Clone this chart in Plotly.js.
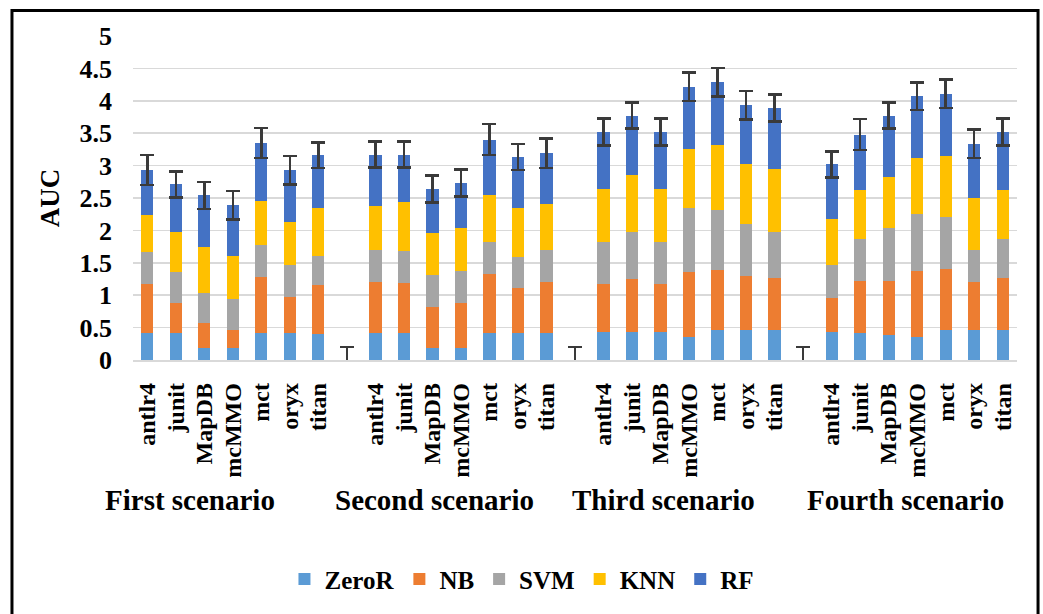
<!DOCTYPE html>
<html>
<head>
<meta charset="utf-8">
<script src="https://cdn.plot.ly/plotly-3.0.1.min.js"></script>
<style>html,body{margin:0;padding:0;background:#fff;}#chart{width:1043px;height:614px;}</style>
</head>
<body>
<div id="chart"></div>
<script>
// ---- data ----
var scenarios = ['First scenario', 'Second scenario', 'Third scenario', 'Fourth scenario'];
var projects = ['antlr4', 'junit', 'MapDB', 'mcMMO', 'mct', 'oryx', 'titan'];
var seriesNames = ['ZeroR', 'NB', 'SVM', 'KNN', 'RF'];

// values per scenario, in project order
var zeroR = [
  0.42, 0.42, 0.18, 0.18, 0.41, 0.41, 0.40,
  0.42, 0.42, 0.18, 0.18, 0.41, 0.41, 0.41,
  0.43, 0.43, 0.43, 0.35, 0.46, 0.46, 0.46,
  0.43, 0.42, 0.38, 0.35, 0.47, 0.47, 0.47
];
var nb = [
  0.75, 0.46, 0.39, 0.29, 0.87, 0.56, 0.75,
  0.79, 0.77, 0.64, 0.70, 0.91, 0.70, 0.79,
  0.75, 0.82, 0.75, 1.01, 0.93, 0.83, 0.81,
  0.52, 0.80, 0.84, 1.02, 0.94, 0.73, 0.79
];
var svm = [
  0.49, 0.48, 0.47, 0.47, 0.49, 0.50, 0.46,
  0.49, 0.49, 0.49, 0.49, 0.50, 0.48, 0.49,
  0.64, 0.72, 0.64, 0.98, 0.93, 0.81, 0.71,
  0.51, 0.64, 0.82, 0.88, 0.79, 0.49, 0.60
];
var knn = [
  0.58, 0.61, 0.70, 0.66, 0.68, 0.66, 0.74,
  0.67, 0.76, 0.65, 0.67, 0.72, 0.76, 0.72,
  0.82, 0.89, 0.82, 0.92, 1.00, 0.93, 0.96,
  0.71, 0.77, 0.79, 0.86, 0.95, 0.81, 0.77
];
var rf = [
  0.69, 0.74, 0.80, 0.79, 0.90, 0.80, 0.81,
  0.80, 0.73, 0.68, 0.69, 0.86, 0.78, 0.78,
  0.88, 0.91, 0.88, 0.96, 0.97, 0.90, 0.95,
  0.85, 0.85, 0.94, 0.96, 0.96, 0.84, 0.89
];
// error bar (+/-) on the stacked total
var totalError = [
  0.23, 0.20, 0.21, 0.22, 0.23, 0.22, 0.20,
  0.20, 0.20, 0.21, 0.21, 0.24, 0.20, 0.23,
  0.21, 0.20, 0.21, 0.22, 0.22, 0.22, 0.21,
  0.20, 0.24, 0.20, 0.21, 0.22, 0.22, 0.21
];
// empty separator slots carry a lone error bar
var separatorError = [0.2, 0.2, 0.2];

var colors = ['#5B9BD5', '#ED7D31', '#A5A5A5', '#FFC000', '#4472C4'];

// ---- build positions (one empty slot between scenarios) ----
var slotsPerGroup = projects.length + 1;
var xPos = [], tickText = [];
scenarios.forEach(function (s, si) {
  projects.forEach(function (p, pi) {
    xPos.push(si * slotsPerGroup + pi);
    tickText.push(p);
  });
});
var sepPos = [];
for (var k = 0; k < scenarios.length - 1; k++) sepPos.push(k * slotsPerGroup + projects.length);
var nSlots = scenarios.length * slotsPerGroup - 1;

var FONT = '"Times New Roman", "Liberation Serif", serif';
var seriesVals = [zeroR, nb, svm, knn, rf];
var traces = seriesVals.map(function (vals, i) {
  var t = {
    type: 'bar', name: seriesNames[i], x: xPos, y: vals,
    marker: {color: colors[i], line: {width: 0}},
    hoverinfo: 'name+y'
  };
  if (i === seriesVals.length - 1) {
    t.error_y = {type: 'data', array: totalError, symmetric: true,
                 color: '#3a3a3a', thickness: 2.5, width: 7};
  }
  return t;
});
traces.push({
  type: 'bar', x: sepPos, y: sepPos.map(function () { return 0; }),
  showlegend: false, hoverinfo: 'skip', marker: {color: colors[4]},
  error_y: {type: 'data', array: separatorError, symmetric: true,
            color: '#3a3a3a', thickness: 2.5, width: 7}
});

// group label placement (the original's labels sit left of the group centre)
var labelShift = [-1.49, -0.93, -0.9, -0.4];
var annotations = scenarios.map(function (s, si) {
  return {
    text: s, xref: 'x', yref: 'paper',
    x: si * slotsPerGroup + (projects.length - 1) / 2 + labelShift[si], y: -0.433,
    xanchor: 'center', yanchor: 'middle', showarrow: false,
    font: {family: FONT, size: 29, color: '#000', weight: 'bold'}
  };
});

var layout = {
  width: 1043, height: 614,
  margin: {l: 133, r: 26, t: 36, b: 251},
  paper_bgcolor: '#fff', plot_bgcolor: '#fff',
  font: {family: FONT},
  barmode: 'stack', bargap: 0.57,
  showlegend: true,
  legend: {
    orientation: 'h', x: 0.44, xanchor: 'center', y: -0.677, yanchor: 'middle',
    font: {family: FONT, size: 25, color: '#000', weight: 'bold'},
    traceorder: 'normal', itemwidth: 30
  },
  xaxis: {
    range: [-0.5, nSlots - 0.5],
    tickmode: 'array', tickvals: xPos, ticktext: tickText,
    tickangle: -90, showgrid: false, zeroline: false,
    showline: true, linecolor: '#d9d9d9', linewidth: 1.5,
    ticks: '', ticklabelstandoff: 12,
    tickfont: {family: FONT, size: 24, color: '#000', weight: 'bold'}
  },
  yaxis: {
    range: [0, 5], dtick: 0.5, tick0: 0,
    showgrid: true, gridcolor: '#d9d9d9', gridwidth: 1.5,
    zeroline: false, showline: false, ticks: '', ticklabelstandoff: 20,
    tickfont: {family: FONT, size: 26, color: '#000', weight: 'bold'},
    title: {text: 'AUC', standoff: 12,
            font: {family: FONT, size: 27, color: '#000', weight: 'bold'}}
  },
  annotations: annotations,
  shapes: [{
    type: 'rect', xref: 'paper', yref: 'paper',
    x0: -0.1369, x1: 1.0238, y0: -0.84, y1: 1.0785,
    line: {color: '#000', width: 3}, fillcolor: 'rgba(0,0,0,0)', layer: 'above'
  }]
};

Plotly.newPlot('chart', traces, layout, {displayModeBar: false, staticPlot: true});
</script>
</body>
</html>
